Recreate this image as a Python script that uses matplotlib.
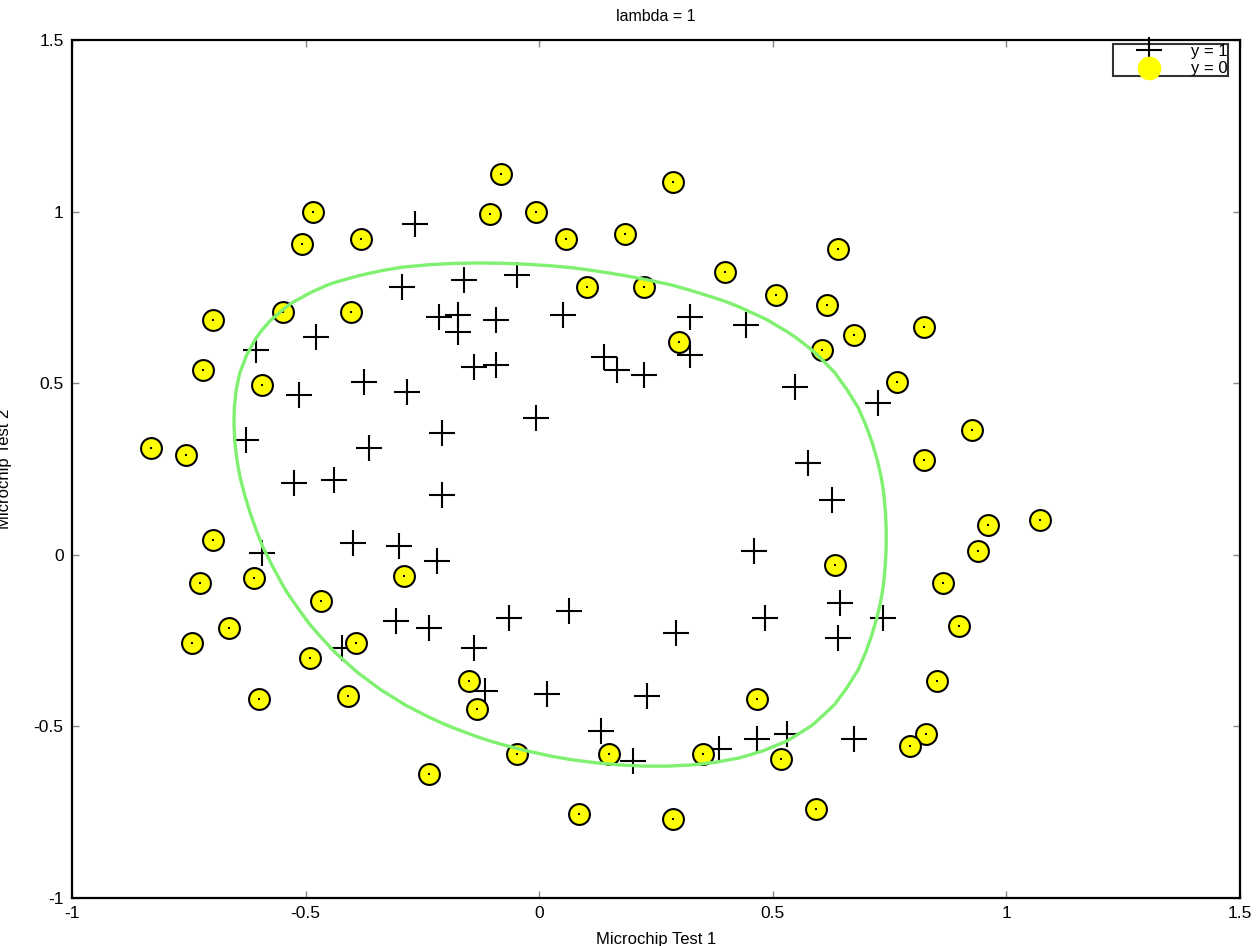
import numpy as np
import matplotlib
matplotlib.use("Agg")
import matplotlib.pyplot as plt
from matplotlib.lines import Line2D

# ---- data (microchip tests) ----
test1 = [0.051267, -0.092742, -0.21371, -0.375, -0.51325, -0.52477, -0.39804, -0.30588, 0.016705, 0.13191,
         0.38537, 0.52938, 0.63882, 0.73675, 0.54666, 0.322, 0.16647, -0.046659, -0.17339, -0.47869,
         -0.60541, -0.62846, -0.59389, -0.42108, -0.11578, 0.20104, 0.46601, 0.67339, -0.13882, -0.29435,
         -0.26555, -0.16187, -0.17339, -0.28283, -0.36348, -0.30012, -0.23675, -0.06394, 0.062788, 0.22984,
         0.2932, 0.48329, 0.64459, 0.46025, 0.6273, 0.57546, 0.72523, 0.22408, 0.44297, 0.322,
         0.13767, -0.0063364, -0.092742, -0.20795, -0.20795, -0.43836, -0.21947, -0.13882,
         0.18376, 0.22408, 0.29896, 0.50634, 0.61578, 0.60426, 0.76555, 0.92684, 0.82316, 0.96141,
         0.93836, 0.86348, 0.89804, 0.85196, 0.82892, 0.79435, 0.59274, 0.51786, 0.46601, 0.35081,
         0.28744, 0.085829, 0.14919, -0.13306, -0.40956, -0.39228, -0.74366, -0.69758, -0.75518, -0.69758,
         -0.4038, -0.38076, -0.50749, -0.54781, 0.10311, 0.057028, -0.10426, -0.081221, 0.28744, 0.39689,
         0.63882, 0.82316, 0.67339, 1.0709, -0.046659, -0.23675, -0.15035, -0.49021, -0.46717, -0.28859,
         -0.61118, -0.66302, -0.59965, -0.72638, -0.83007, -0.72062, -0.59389, -0.48445, -0.0063364, 0.63265]
test2 = [0.69956, 0.68494, 0.69225, 0.50219, 0.46564, 0.2098, 0.034357, -0.19225, -0.40424, -0.51389,
         -0.56506, -0.5212, -0.24342, -0.18494, 0.48757, 0.5826, 0.53874, 0.81652, 0.69956, 0.63377,
         0.59722, 0.33406, 0.005117, -0.27266, -0.39693, -0.60161, -0.53582, -0.53582, 0.54605, 0.77997,
         0.96272, 0.8019, 0.64839, 0.47295, 0.31213, 0.027047, -0.21418, -0.18494, -0.16301, -0.41155,
         -0.2288, -0.18494, -0.14108, 0.012427, 0.15863, 0.26827, 0.44371, 0.52412, 0.67032, 0.69225,
         0.57529, 0.39985, 0.55336, 0.35599, 0.17325, 0.21711, -0.016813, -0.27266,
         0.93348, 0.77997, 0.61915, 0.75804, 0.7288, 0.59722, 0.50219, 0.3633, 0.27558, 0.085526,
         0.012427, -0.082602, -0.20687, -0.36769, -0.5212, -0.55775, -0.7405, -0.5943, -0.41886, -0.57968,
         -0.76974, -0.75512, -0.57968, -0.4481, -0.41155, -0.25804, -0.25804, 0.041667, 0.2902, 0.68494,
         0.70687, 0.91886, 0.90424, 0.70687, 0.77997, 0.91886, 0.99196, 1.1089, 1.087, 0.82383,
         0.88962, 0.66301, 0.64108, 0.10015, -0.57968, -0.63816, -0.36769, -0.3019, -0.13377, -0.060673,
         -0.067982, -0.21418, -0.41886, -0.082602, 0.31213, 0.53874, 0.49488, 0.99927, 0.99927, -0.030612]
labels = [1] * 58 + [0] * 60

lambda_reg = 1.0
degree = 6
title_text = "lambda = 1"
legend_labels = ["y = 1", "y = 0"]

x1 = np.array(test1)
x2 = np.array(test2)
y = np.array(labels, dtype=float)


def map_feature(a, b):
    a = np.asarray(a, dtype=float).ravel()
    b = np.asarray(b, dtype=float).ravel()
    cols = [np.ones_like(a)]
    for i in range(1, degree + 1):
        for j in range(i + 1):
            cols.append(a ** (i - j) * b ** j)
    return np.column_stack(cols)


# ---- regularized logistic regression (Newton's method) ----
X = map_feature(x1, x2)
m, n = X.shape
theta = np.zeros(n)
R = np.eye(n) * lambda_reg / m
R[0, 0] = 0.0
for _ in range(50):
    h = 1.0 / (1.0 + np.exp(-X @ theta))
    grad = X.T @ (h - y) / m + R @ theta
    H = (X.T * (h * (1 - h))) @ X / m + R
    theta = theta - np.linalg.solve(H, grad)

u = np.linspace(-1, 1.5, 50)
v = np.linspace(-1, 1.5, 50)
U, V = np.meshgrid(u, v)
Z = (map_feature(U, V) @ theta).reshape(U.shape)

# ---- plot ----
plt.rcParams['font.family'] = ['Liberation Sans', 'DejaVu Sans']
fig = plt.figure(figsize=(12.58, 9.46), dpi=100)
ax = fig.add_axes([72 / 1258, 48 / 946, 1168 / 1258, 858 / 946])

pos = y == 1
neg = y == 0
ax.plot(x1[pos], x2[pos], '+', color='black', markersize=19, markeredgewidth=1.5, linestyle='none')
ax.plot(x1[neg], x2[neg], 'o', markerfacecolor='#ffff00', markeredgecolor='black',
        markersize=15, markeredgewidth=1.5, linestyle='none')
ax.plot(x1[neg], x2[neg], 's', color='black', markersize=2, markeredgewidth=0, linestyle='none')

ax.contour(U, V, Z, levels=[0], colors=['#80F070'], linewidths=2.4)

ax.set_xlim(-1, 1.5)
ax.set_ylim(-1, 1.5)
ax.set_xticks([-1, -0.5, 0, 0.5, 1, 1.5])
ax.set_yticks([-1, -0.5, 0, 0.5, 1, 1.5])
ax.set_xticklabels(['-1', '-0.5', '0', '0.5', '1', '1.5'])
ax.set_yticklabels(['-1', '-0.5', '0', '0.5', '1', '1.5'])
ax.tick_params(direction='in', length=5, width=1, color='#888888', labelsize=12.5,
               top=True, right=True, pad=6)
for s in ax.spines.values():
    s.set_linewidth(1.6)
ax.set_title(title_text, fontsize=11.5, pad=14)
ax.set_xlabel("Microchip Test 1", fontsize=12, labelpad=8)
ax.set_ylabel("Microchip Test 2", fontsize=12)
ax.yaxis.set_label_coords((12 - 72) / 1168, 0.5)

handles = [Line2D([], [], marker='+', color='black', markersize=19, markeredgewidth=1.5, linestyle='none'),
           Line2D([], [], marker='o', markerfacecolor='#ffff00', markeredgecolor='#ffff00',
                  markersize=16, linestyle='none')]
leg = ax.legend(handles, legend_labels, loc='upper right',
                bbox_to_anchor=((1228 - 72) / 1168, (898 - 44) / 858),
                bbox_transform=ax.transAxes,
                fontsize=12, frameon=True, fancybox=False, borderpad=0.0, labelspacing=0.15,
                handlelength=4.3, handletextpad=0.4, borderaxespad=0.0)
leg.get_frame().set_edgecolor('black')
leg.get_frame().set_linewidth(1.5)

fig.savefig("out.png", dpi=100)
